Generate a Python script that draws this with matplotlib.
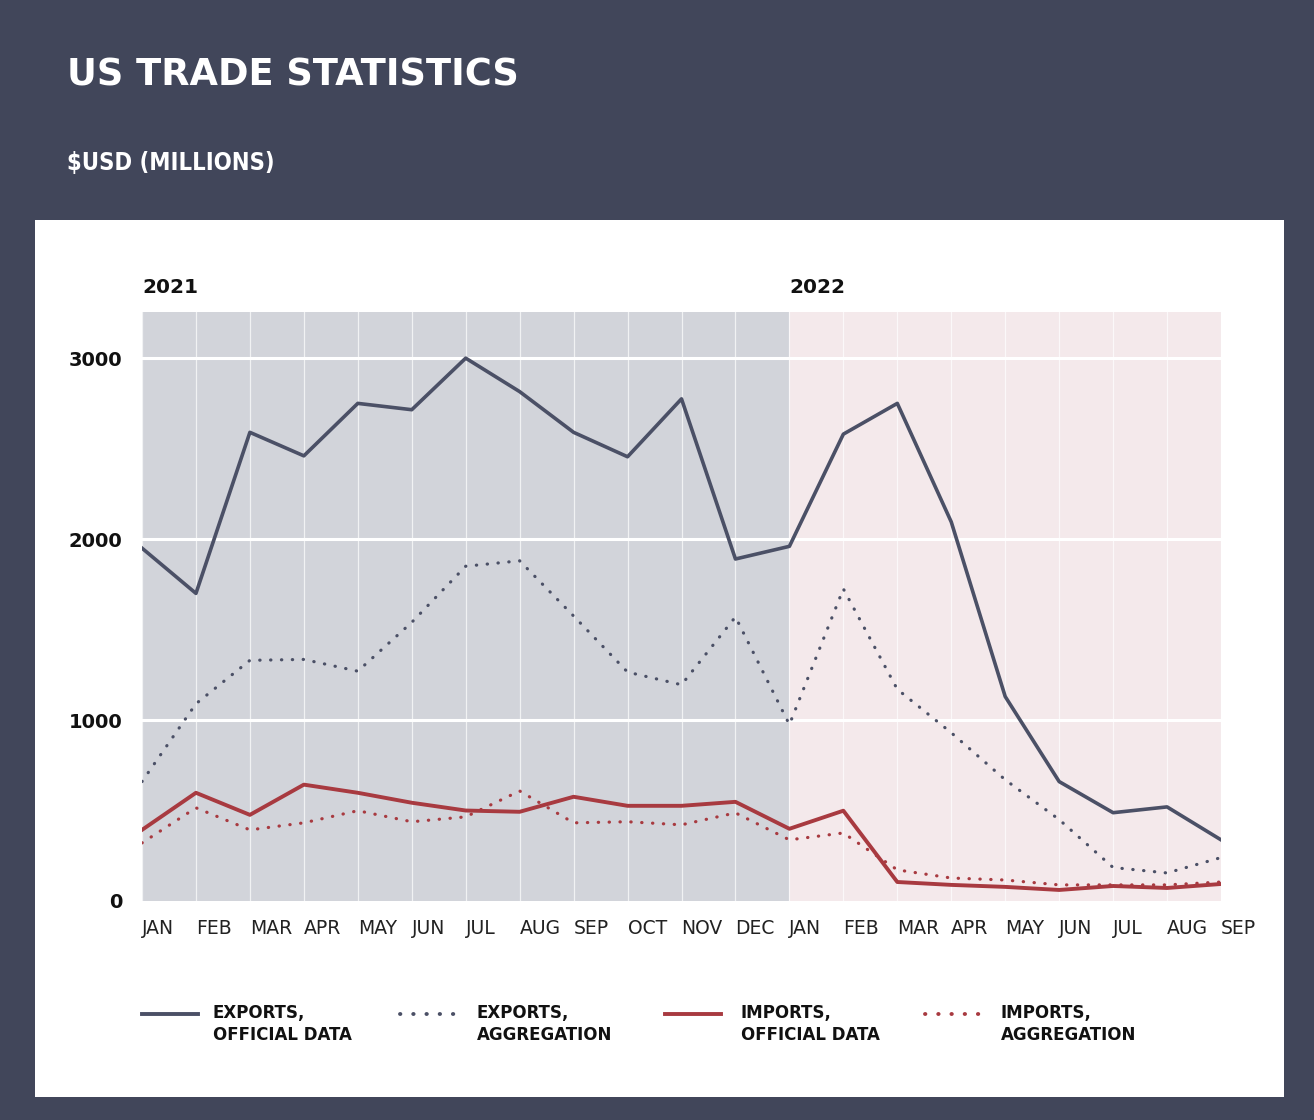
import numpy as np
import matplotlib
matplotlib.use("Agg")
import matplotlib.pyplot as plt
from matplotlib.lines import Line2D
from matplotlib.patches import Rectangle

# Monthly values, Jan 2021 .. Sep 2022 ($USD millions)
months = ["JAN", "FEB", "MAR", "APR", "MAY", "JUN", "JUL", "AUG", "SEP", "OCT", "NOV", "DEC",
          "JAN", "FEB", "MAR", "APR", "MAY", "JUN", "JUL", "AUG", "SEP"]
exports_official = [1950, 1700, 2590, 2460, 2750, 2715, 3000, 2815, 2590, 2455, 2775, 1890,
                    1960, 2580, 2750, 2095, 1130, 660, 488, 520, 338]
exports_aggregation = [660, 1090, 1330, 1335, 1270, 1540, 1850, 1880, 1575, 1265, 1195, 1570,
                       975, 1725, 1170, 930, 670, 450, 185, 155, 240]
imports_official = [393, 598, 476, 643, 598, 543, 500, 493, 576, 526, 526, 548,
                    399, 499, 105, 89, 78, 61, 83, 72, 94]
imports_aggregation = [321, 515, 393, 432, 499, 438, 465, 608, 432, 438, 421, 487,
                       338, 376, 172, 127, 116, 89, 89, 89, 105]
y_ticks = [0, 1000, 2000, 3000]
years = ["2021", "2022"]

BG = "#41465a"
EXP = "#4b5066"
IMP = "#a83a40"
NARROW = dict(family="DejaVu Sans", fontstretch="condensed")

W, H = 1314, 1120
fig = plt.figure(figsize=(W / 100, H / 100), dpi=100)
fig.patch.set_facecolor(BG)

# white panel
fig.add_artist(Rectangle((35 / W, 1 - 1097 / H), 1249 / W, 877 / H,
                         transform=fig.transFigure, facecolor="white", edgecolor="none", zorder=0))

fig.text(67 / W, 1 - 75 / H, "US TRADE STATISTICS", color="white", fontsize=26.5,
         fontweight="bold", va="center", ha="left", family="DejaVu Sans")
fig.text(67 / W, 1 - 163 / H, "$USD (MILLIONS)", color="white", fontsize=17,
         fontweight="bold", va="center", ha="left", **NARROW)

ax = fig.add_axes([142 / W, 1 - 901 / H, 1079 / W, 589 / H])
ax.set_facecolor("none")
x = np.arange(len(months))
ax.set_xlim(0, len(months) - 1)
ax.set_ylim(0, 3255)

ax.axvspan(0, 12, color="#d2d4da", zorder=0, lw=0)
ax.axvspan(12, 20, color="#f4e9eb", zorder=0, lw=0)
for xi in x:
    ax.axvline(xi, color="white", lw=0.9, alpha=0.7, zorder=1)
for yv in y_ticks[1:]:
    ax.axhline(yv, color="white", lw=2.2, zorder=1)

ax.plot(x, exports_aggregation, color=EXP, lw=2.3, linestyle=(0, (0.1, 3.3)),
        dash_capstyle="round", zorder=3)
ax.plot(x, imports_aggregation, color=IMP, lw=2.3, linestyle=(0, (0.1, 3.3)),
        dash_capstyle="round", zorder=3)
ax.plot(x, exports_official, color=EXP, lw=2.6, zorder=4)
ax.plot(x, imports_official, color=IMP, lw=2.8, zorder=4)

for s in ax.spines.values():
    s.set_visible(False)
ax.set_xticks(x)
ax.set_xticklabels(months, ha="left")
ax.set_yticks(y_ticks)
ax.set_yticklabels([str(v) for v in y_ticks], fontweight="bold")
ax.tick_params(axis="x", length=0, pad=13, labelsize=13.5, labelcolor="#222222")
ax.tick_params(axis="y", length=0, pad=14, labelsize=14, labelcolor="#111111")

for xi, yr in zip([0, 12], years):
    ax.text(xi, 1.042, yr, transform=ax.get_xaxis_transform(), fontsize=14.5,
            fontweight="bold", va="center", ha="left", color="#111111")

# legend
legend_items = [
    (142, 213, EXP, "-", "EXPORTS,\nOFFICIAL DATA"),
    (400, 477, EXP, (0, (0.1, 3.3)), "EXPORTS,\nAGGREGATION"),
    (665, 741, IMP, "-", "IMPORTS,\nOFFICIAL DATA"),
    (925, 1001, IMP, (0, (0.1, 3.3)), "IMPORTS,\nAGGREGATION"),
]
ly = 1 - 1014 / H
for x0, tx, c, ls, lab in legend_items:
    fig.add_artist(Line2D([x0 / W, (x0 + 56) / W], [ly, ly], transform=fig.transFigure,
                          color=c, lw=2.8, linestyle=ls, dash_capstyle="round"))
    fig.text(tx / W, 1 - 1004 / H, lab, fontsize=13.3, fontweight="bold", va="top", ha="left",
             color="#111111", linespacing=1.3, **NARROW)

fig.savefig("out.png", dpi=100, facecolor=BG)
